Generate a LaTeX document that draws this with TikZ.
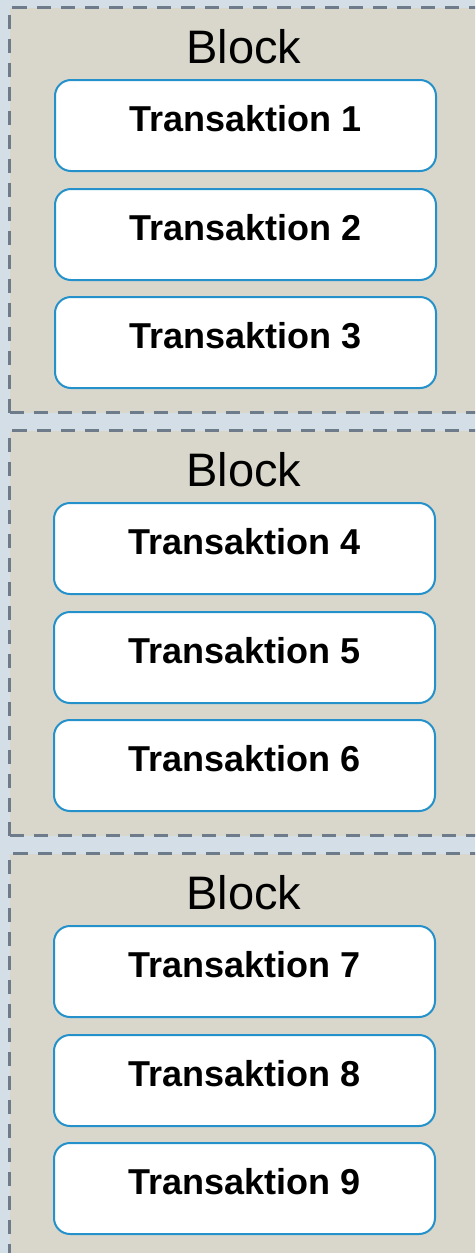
\documentclass[tikz,border=0pt]{standalone}
\usepackage{fontspec}
\setmainfont{Liberation Sans}
\definecolor{pagebg}{HTML}{D4DEE6}
\definecolor{blockfill}{HTML}{D9D7CB}
\definecolor{blockline}{HTML}{6D7B8B}
\definecolor{txline}{HTML}{2491CB}
\tikzset{
  blockbox/.style={rectangle, fill=blockfill, draw=blockline, line width=3pt,
    dash pattern=on 14pt off 10pt, anchor=north west, inner sep=0pt,
    minimum width=490pt},
  blocklabel/.style={anchor=base, inner sep=0pt,
    font=\fontsize{47}{52}\selectfont},
  txbox/.style={rectangle, rounded corners=16pt, fill=white, draw=txline,
    line width=2pt, anchor=north west, inner sep=0pt,
    minimum width=381pt, minimum height=91pt, text height=51pt, text depth=40pt,
    font=\fontsize{36}{40}\selectfont\bfseries}
}
\begin{document}
\begin{tikzpicture}[x=1pt,y=-1pt]
  \useasboundingbox (0,0) rectangle (475,1253);
  \clip (0,0) rectangle (475,1253);
  \fill[pagebg] (0,0) rectangle (475,1253);

  % the three blocks
  \node[blockbox, minimum height=405pt] (b1) at (8,6) {};
  \node[blockbox, minimum height=405pt] (b2) at (8,429) {};
  \node[blockbox, minimum height=430pt] (b3) at (8,852) {};

  \node[blocklabel] (l1) at (244,63) {Block};
  \node[blocklabel] (l2) at (244,486) {Block};
  \node[blocklabel] (l3) at (244,909) {Block};

  % transactions
  \node[txbox] (t1) at (54,79)  {Transaktion 1};
  \node[txbox] (t2) at (54,188) {Transaktion 2};
  \node[txbox] (t3) at (54,296) {Transaktion 3};

  \node[txbox] (t4) at (53,502) {Transaktion 4};
  \node[txbox] (t5) at (53,611) {Transaktion 5};
  \node[txbox] (t6) at (53,719) {Transaktion 6};

  \node[txbox] (t7) at (53,925)  {Transaktion 7};
  \node[txbox] (t8) at (53,1034) {Transaktion 8};
  \node[txbox] (t9) at (53,1142) {Transaktion 9};
\end{tikzpicture}
\end{document}
